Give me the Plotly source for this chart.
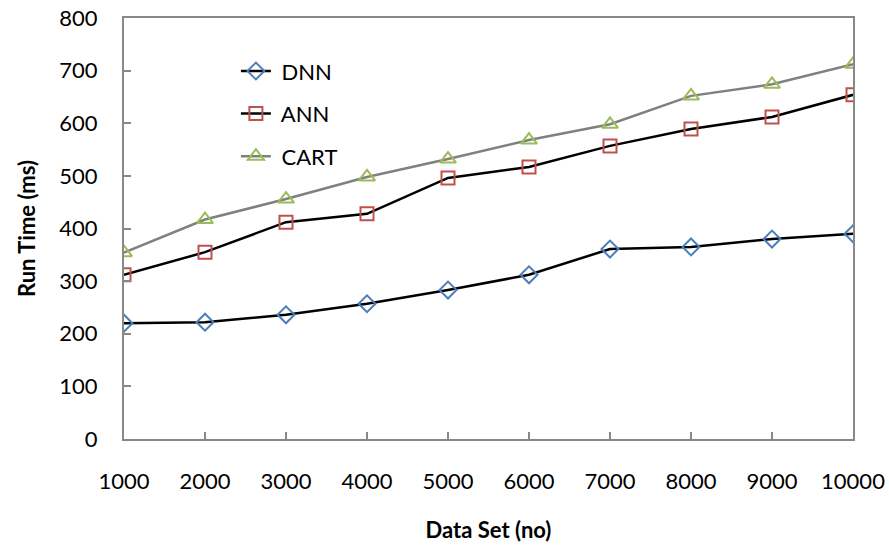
import plotly.graph_objects as go

data_set = [1000, 2000, 3000, 4000, 5000, 6000, 7000, 8000, 9000, 10000]
dnn = [220, 222, 236, 257, 283, 312, 361, 365, 380, 390]
ann = [312, 355, 412, 428, 496, 517, 557, 589, 612, 654]
cart = [354, 417, 456, 498, 532, 568, 598, 652, 674, 712]
y_ticks = [0, 100, 200, 300, 400, 500, 600, 700, 800]
names = ["DNN", "ANN", "CART"]

FONT = "Lato"
fig = go.Figure()
fig.add_trace(go.Scatter(x=data_set, y=dnn, name="\u00a0" + names[0], mode="lines+markers",
                         line=dict(color="black", width=2.5),
                         marker=dict(symbol="diamond-open", size=13, color="#4A7EBB", line=dict(width=2)),
                         legendgroup="a"))
fig.add_trace(go.Scatter(x=data_set, y=ann, name="\u00a0" + names[1], mode="lines+markers",
                         line=dict(color="black", width=2.5),
                         marker=dict(symbol="square-open", size=13, color="#C0504D", line=dict(width=2)),
                         legendgroup="b"))
fig.add_trace(go.Scatter(x=data_set, y=cart, name="\u00a0" + names[2], mode="lines+markers",
                         line=dict(color="#808080", width=2.5),
                         marker=dict(symbol="triangle-up-open", size=14, color="#9BBB59", line=dict(width=2)),
                         legendgroup="c"))

fig.update_layout(
    width=889, height=548,
    margin=dict(l=124, r=36, t=18, b=109, autoexpand=False),
    plot_bgcolor="white", paper_bgcolor="white",
    font=dict(family=FONT, size=22, color="black"),
    showlegend=True,
    legend=dict(x=0.1535, y=0.9235, xanchor="left", yanchor="top",
                bgcolor="rgba(0,0,0,0)", font=dict(size=22, family=FONT),
                traceorder="grouped", tracegroupgap=11),
    xaxis=dict(range=[1000, 10000], tickvals=data_set, ticktext=[str(v) for v in data_set],
               showgrid=False, zeroline=False, showline=True, mirror=True, automargin=False,
               linecolor="#888888", linewidth=2, ticks="inside", ticklen=7,
               tickcolor="#888888", tickwidth=2, ticklabelstandoff=22,
               title=dict(text="<b>Data Set (no)</b>", font=dict(size=22, family=FONT), standoff=29)),
    yaxis=dict(range=[0, 800], tickvals=y_ticks,
               showgrid=False, zeroline=False, showline=True, mirror=True, automargin=False,
               linecolor="#888888", linewidth=2, ticks="inside", ticklen=7,
               tickcolor="#888888", tickwidth=2, ticklabelstandoff=20,
               title=dict(text="<b>Run Time (ms)</b>", font=dict(size=22, family=FONT), standoff=18)),
)
fig.write_html("out.html")
